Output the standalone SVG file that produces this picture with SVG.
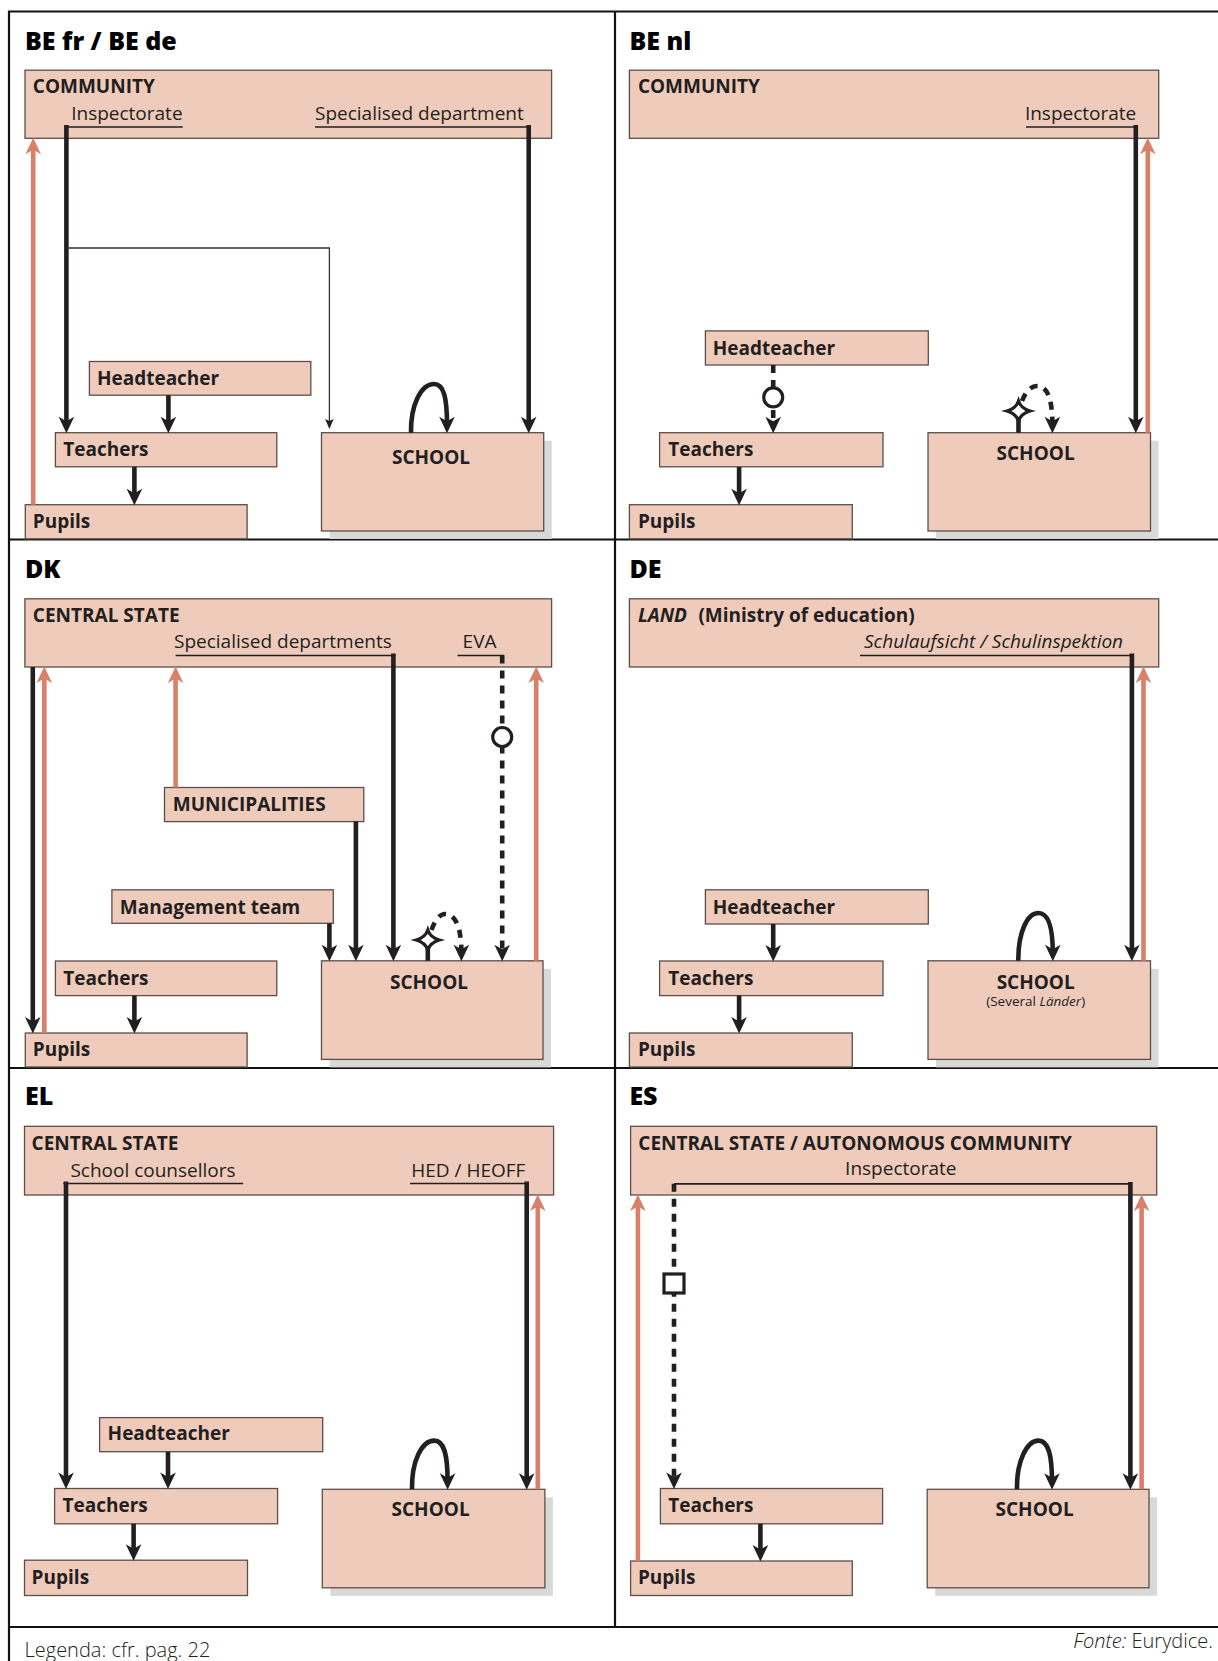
<svg xmlns="http://www.w3.org/2000/svg" width="1218" height="1661" viewBox="0 0 1218 1661">
<defs>
<style>
.box{fill:#EFCBBB;stroke:#5d4e4a;stroke-width:1.3}
.sh{fill:#D9D9D9}
.frame{stroke:#111;stroke-width:2.2;fill:none}
text{font-family:"Open Sans","Noto Sans","DejaVu Sans",sans-serif;fill:#231F20}
.lbl{font-size:19px;font-weight:700}
.sub{font-size:19px;font-weight:400}
.it{font-style:italic}
.title{font-size:25px;font-weight:800;fill:#000}
.small{font-size:13.5px;font-weight:400}
.foot{font-size:20px;font-weight:300;fill:#222}
.thick{stroke:#231F20;stroke-width:4.6;fill:none}
.org{stroke:#D9806A;stroke-width:4.6;fill:none}
.thin{stroke:#333;stroke-width:1.3;fill:none}
.ul{stroke:#231F20;stroke-width:1.5;fill:none}
.dash{stroke:#231F20;stroke-width:4.6;fill:none;stroke-dasharray:8 7}
.knot{fill:#fff;stroke:#231F20;stroke-width:3.2}
</style>
<marker id="ab" markerUnits="userSpaceOnUse" viewBox="-9 -9 19 18" markerWidth="19" markerHeight="18" refX="0" refY="0" orient="auto"><path d="M8.5,0 L-8,-7.8 L-3.5,0 L-8,7.8 Z" fill="#231F20"/></marker>
<marker id="ao" markerUnits="userSpaceOnUse" viewBox="-9 -9 19 18" markerWidth="19" markerHeight="18" refX="0" refY="0" orient="auto"><path d="M8.5,0 L-8,-7.8 L-3.5,0 L-8,7.8 Z" fill="#D9806A"/></marker>
<marker id="at" markerUnits="userSpaceOnUse" viewBox="-6 -5 12 10" markerWidth="12" markerHeight="10" refX="0" refY="0" orient="auto"><path d="M5,0 L-5,-4.3 L-3,0 L-5,4.3 Z" fill="#231F20"/></marker>
<path id="star" d="M0,-10 Q2.5,-2.5 11.5,0 Q2.5,2.5 0,10 Q-2.5,2.5 -11.5,0 Q-2.5,-2.5 0,-10 Z"/>
</defs>
<rect width="1218" height="1661" fill="#fff"/>

<g id="frame" class="frame">
<path d="M9,1661 V11.5 H1218"/>
<path d="M615,11.5 V1627"/>
<path d="M9,539.5 H1218 M9,1068 H1218 M9,1627 H1218"/>
</g>

<g id="titles">
<text class="title" x="25" y="49.7">BE fr / BE de</text>
<text class="title" x="629.4" y="49.7">BE nl</text>
<text class="title" x="25" y="577.6">DK</text>
<text class="title" x="629.4" y="577.6">DE</text>
<text class="title" x="25" y="1105.2">EL</text>
<text class="title" x="629.4" y="1105.2">ES</text>
<text class="foot" x="24.5" y="1656.8">Legenda: cfr. pag. 22</text>
<text class="foot" x="1213" y="1648.3" text-anchor="end"><tspan class="it">Fonte:</tspan> Eurydice.</text>
</g>

<!-- Panel 1: BE fr / BE de -->
<g id="p1-community"><rect class="box" x="25" y="70.2" width="526.6" height="68.1"/><text class="lbl" x="32.8" y="93">COMMUNITY</text><text class="sub" x="71.2" y="120">Inspectorate</text><text class="sub" x="315" y="120">Specialised department</text></g>
<g id="p1-headteacher"><rect class="box" x="89.4" y="361.5" width="221.4" height="33.7"/><text class="lbl" x="96.9" y="384.8">Headteacher</text></g>
<g id="p1-teachers"><rect class="box" x="55.4" y="432.7" width="221.4" height="34.1"/><text class="lbl" x="63.3" y="456">Teachers</text></g>
<g id="p1-pupils"><rect class="box" x="25.3" y="504.7" width="221.8" height="34.1"/><text class="lbl" x="32.8" y="527.6">Pupils</text></g>
<g id="p1-school"><rect class="sh" x="329.5" y="440.7" width="222.2" height="98.3"/><rect class="box" x="321.5" y="432.7" width="222.2" height="98.3"/><text class="lbl" x="431" y="464" text-anchor="middle">SCHOOL</text></g>

<!-- Panel 2: BE nl -->
<g id="p2-community"><rect class="box" x="629.4" y="70.2" width="529.3" height="68.1"/><text class="lbl" x="637.9" y="93">COMMUNITY</text><text class="sub" x="1024.9" y="120">Inspectorate</text></g>
<g id="p2-headteacher"><rect class="box" x="705.4" y="330.9" width="222.9" height="34.1"/><text class="lbl" x="712.8" y="354.5">Headteacher</text></g>
<g id="p2-teachers"><rect class="box" x="659.6" y="432.7" width="223.4" height="34.1"/><text class="lbl" x="668.2" y="456">Teachers</text></g>
<g id="p2-pupils"><rect class="box" x="629.4" y="504.7" width="222.9" height="34.1"/><text class="lbl" x="637.9" y="527.6">Pupils</text></g>
<g id="p2-school"><rect class="sh" x="936" y="440.7" width="222.5" height="98.3"/><rect class="box" x="928" y="432.7" width="222.5" height="98.3"/><text class="lbl" x="1035.6" y="460" text-anchor="middle">SCHOOL</text></g>

<!-- Panel 3: DK -->
<g id="p3-central"><rect class="box" x="24.9" y="598.8" width="526.7" height="68.2"/><text class="lbl" x="32.8" y="622">CENTRAL STATE</text><text class="sub" x="174" y="647.6">Specialised departments</text><text class="sub" x="462.6" y="647.6">EVA</text></g>
<g id="p3-municipalities"><rect class="box" x="164.5" y="787.5" width="199.3" height="34.1"/><text class="lbl" x="172.8" y="810.7">MUNICIPALITIES</text></g>
<g id="p3-management"><rect class="box" x="111.9" y="889.8" width="221.4" height="33.5"/><text class="lbl" x="119.8" y="913.7">Management team</text></g>
<g id="p3-teachers"><rect class="box" x="55.4" y="961" width="221.4" height="34.6"/><text class="lbl" x="63.3" y="984.7">Teachers</text></g>
<g id="p3-pupils"><rect class="box" x="25.3" y="1033" width="221.8" height="34"/><text class="lbl" x="32.8" y="1056">Pupils</text></g>
<g id="p3-school"><rect class="sh" x="329.5" y="968.8" width="221.5" height="98.6"/><rect class="box" x="321.5" y="960.8" width="221.5" height="98.6"/><text class="lbl" x="429" y="988.8" text-anchor="middle">SCHOOL</text></g>

<!-- Panel 4: DE -->
<g id="p4-land"><rect class="box" x="629.4" y="598.8" width="529.3" height="68.2"/><text class="lbl" x="637.9" y="622"><tspan class="it">LAND</tspan></text><text class="lbl" x="698.4" y="622">(Ministry of education)</text><text class="sub it" x="864" y="647.6">Schulaufsicht / Schulinspektion</text></g>
<g id="p4-headteacher"><rect class="box" x="705.4" y="889.8" width="222.9" height="34.2"/><text class="lbl" x="712.8" y="913.7">Headteacher</text></g>
<g id="p4-teachers"><rect class="box" x="659.6" y="961" width="223.4" height="34.6"/><text class="lbl" x="668.2" y="984.7">Teachers</text></g>
<g id="p4-pupils"><rect class="box" x="629.4" y="1033" width="222.9" height="34"/><text class="lbl" x="637.9" y="1056">Pupils</text></g>
<g id="p4-school"><rect class="sh" x="936" y="968.8" width="222.5" height="98.6"/><rect class="box" x="928" y="960.8" width="222.5" height="98.6"/><text class="lbl" x="1035.7" y="988.8" text-anchor="middle">SCHOOL</text><text class="small" x="1035.7" y="1005.8" text-anchor="middle">(Several <tspan class="it">Länder</tspan>)</text></g>

<!-- Panel 5: EL -->
<g id="p5-central"><rect class="box" x="24.5" y="1126.3" width="529.1" height="68.7"/><text class="lbl" x="31.6" y="1150">CENTRAL STATE</text><text class="sub" x="70.4" y="1176.9">School counsellors</text><text class="sub" x="411.2" y="1176.9">HED / HEOFF</text></g>
<g id="p5-headteacher"><rect class="box" x="99.6" y="1417.6" width="223.1" height="34.1"/><text class="lbl" x="107.6" y="1439.5">Headteacher</text></g>
<g id="p5-teachers"><rect class="box" x="54.6" y="1488.5" width="223" height="35.3"/><text class="lbl" x="62.5" y="1512.3">Teachers</text></g>
<g id="p5-pupils"><rect class="box" x="24.5" y="1560.2" width="223" height="35.3"/><text class="lbl" x="31.6" y="1584">Pupils</text></g>
<g id="p5-school"><rect class="sh" x="330.3" y="1497.3" width="222.6" height="98.5"/><rect class="box" x="322.3" y="1489.3" width="222.6" height="98.5"/><text class="lbl" x="430.6" y="1516" text-anchor="middle">SCHOOL</text></g>

<!-- Panel 6: ES -->
<g id="p6-central"><rect class="box" x="630.6" y="1126.3" width="526.1" height="68.7"/><text class="lbl" x="638.3" y="1150">CENTRAL STATE / AUTONOMOUS COMMUNITY</text><text class="sub" x="900.8" y="1175" text-anchor="middle">Inspectorate</text></g>
<g id="p6-teachers"><rect class="box" x="660.4" y="1488.5" width="222.2" height="35.3"/><text class="lbl" x="668.2" y="1512.3">Teachers</text></g>
<g id="p6-pupils"><rect class="box" x="630.6" y="1561" width="221.7" height="34.5"/><text class="lbl" x="637.9" y="1584">Pupils</text></g>
<g id="p6-school"><rect class="sh" x="935.2" y="1497.3" width="221.8" height="98.5"/><rect class="box" x="927.2" y="1489.3" width="221.8" height="98.5"/><text class="lbl" x="1034.6" y="1516" text-anchor="middle">SCHOOL</text></g>

<g id="connectors">
<!-- P1 -->
<path class="ul" d="M64.5,127 H182.7 M315,127 H530"/>
<path class="thick" d="M66.4,125 V424.7" marker-end="url(#ab)"/>
<path class="thick" d="M528.7,125 V424.7" marker-end="url(#ab)"/>
<path class="thin" d="M66.4,248 H329.4 V424" marker-end="url(#at)"/>
<path class="org" d="M33.2,504.7 V146.3" marker-end="url(#ao)"/>
<path class="thick" d="M168.4,395.2 V424.7" marker-end="url(#ab)"/>
<path class="thick" d="M134.4,466.8 V496.7" marker-end="url(#ab)"/>
<path class="thick" d="M411,432.7 C410.5,405 421,384 434,384 C444,384 447,398 447,424.7" marker-end="url(#ab)"/>
<!-- P2 -->
<path class="ul" d="M1026,127 H1137.3"/>
<path class="thick" d="M1135.8,125 V424.7" marker-end="url(#ab)"/>
<path class="org" d="M1147.8,432.7 V146.3" marker-end="url(#ao)"/>
<path class="dash" d="M773.2,365 V424.7" marker-end="url(#ab)"/>
<circle class="knot" cx="773.2" cy="397.3" r="9.5"/>
<path class="thick" d="M739.1,466.8 V496.7" marker-end="url(#ab)"/>
<path class="thick" d="M1018.5,419 V432.7"/>
<use href="#star" class="knot" x="1018.5" y="411"/>
<path class="dash" d="M1022,401 C1026,391 1031,386 1037,386 C1047,386 1052.4,398 1052.4,424.7" marker-end="url(#ab)"/>
<!-- P3 -->
<path class="ul" d="M175.6,655.4 H395.4 M457.5,655.4 H504.2"/>
<path class="thick" d="M393.4,653.5 V952.8" marker-end="url(#ab)"/>
<path class="dash" d="M502.2,655.4 V952.8" marker-end="url(#ab)"/>
<circle class="knot" cx="502.2" cy="737" r="9.5"/>
<path class="thick" d="M32.8,667 V1025" marker-end="url(#ab)"/>
<path class="org" d="M44.3,1033 V675" marker-end="url(#ao)"/>
<path class="org" d="M175.6,787.5 V675" marker-end="url(#ao)"/>
<path class="thick" d="M355.9,821.6 V952.8" marker-end="url(#ab)"/>
<path class="thick" d="M329.4,923.3 V952.8" marker-end="url(#ab)"/>
<path class="thick" d="M134.4,995.6 V1025" marker-end="url(#ab)"/>
<path class="thick" d="M427.8,949 V960.8"/>
<use href="#star" class="knot" x="427.8" y="940"/>
<path class="dash" d="M431.5,930 C435,920 440,914 445,914 C455,914 461.4,926 461.4,952.8" marker-end="url(#ab)"/>
<path class="org" d="M536.2,960.8 V675" marker-end="url(#ao)"/>
<!-- P4 -->
<path class="ul" d="M860,655.4 H1133.5"/>
<path class="thick" d="M1131.9,653.5 V952.8" marker-end="url(#ab)"/>
<path class="org" d="M1143.5,960.8 V675" marker-end="url(#ao)"/>
<path class="thick" d="M773.2,924 V953" marker-end="url(#ab)"/>
<path class="thick" d="M739.1,995.6 V1025" marker-end="url(#ab)"/>
<path class="thick" d="M1018.3,960.8 C1018,933 1027,913 1038.4,913 C1048,913 1052.8,926 1052.8,952.8" marker-end="url(#ab)"/>
<!-- P5 -->
<path class="ul" d="M63.3,1183.4 H243.2 M410,1183.4 H528.7"/>
<path class="thick" d="M66,1181.5 V1480.5" marker-end="url(#ab)"/>
<path class="thick" d="M526.7,1181.5 V1481.3" marker-end="url(#ab)"/>
<path class="org" d="M537.8,1489.3 V1203" marker-end="url(#ao)"/>
<path class="thick" d="M168,1451.7 V1480.5" marker-end="url(#ab)"/>
<path class="thick" d="M133.6,1523.8 V1552.2" marker-end="url(#ab)"/>
<path class="thick" d="M412,1489.3 C411.5,1461 422,1440.6 434.2,1440.6 C444,1440.6 447.6,1454 447.6,1481.3" marker-end="url(#ab)"/>
<!-- P6 -->
<path class="ul" d="M674,1183.8 H1131" style="stroke-width:1.8"/>
<path class="thick" d="M1130.4,1182 V1481.3" marker-end="url(#ab)"/>
<path class="dash" d="M674,1183.8 V1480.5" marker-end="url(#ab)"/>
<rect class="knot" x="664" y="1274" width="20" height="19"/>
<path class="org" d="M637.9,1561 V1203" marker-end="url(#ao)"/>
<path class="org" d="M1141.6,1489.3 V1203" marker-end="url(#ao)"/>
<path class="thick" d="M760.4,1523.8 V1553" marker-end="url(#ab)"/>
<path class="thick" d="M1017,1489.3 C1016.5,1461 1027,1440.6 1038.5,1440.6 C1048,1440.6 1052,1454 1052,1481.3" marker-end="url(#ab)"/>
</g>
</svg>
